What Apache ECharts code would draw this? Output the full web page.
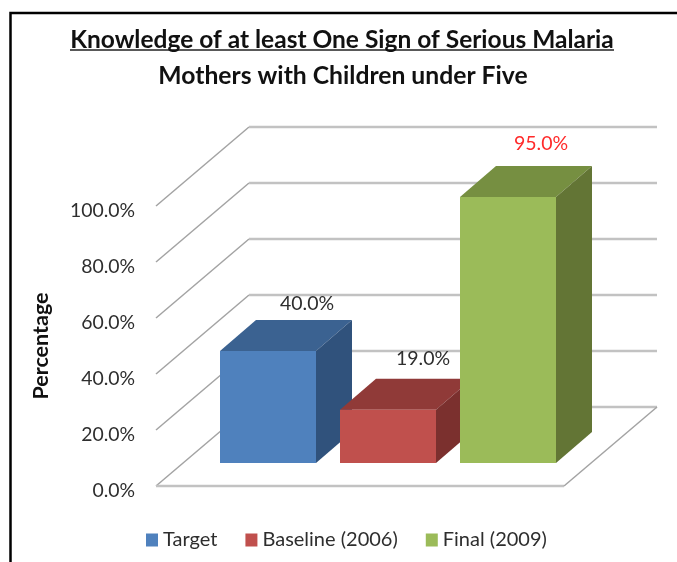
<!DOCTYPE html>
<html>
<head>
<meta charset="utf-8">
<title>Knowledge of at least One Sign of Serious Malaria</title>
<script src="https://cdn.jsdelivr.net/npm/echarts@6/dist/echarts.min.js"></script>
<style>
  html, body { margin: 0; padding: 0; background: #fff; }
  #chart { width: 677px; height: 562px; }
</style>
</head>
<body>
<div id="chart"></div>
<script>
var categories = ['Knowledge of sign']
var tickValues = [0, 20, 40, 60, 80, 100]
var seriesNames = ['Target', 'Baseline (2006)', 'Final (2009)']
var targetValues = [40.0]
var baselineValues = [19.0]
var finalValues = [95.0]

var textFont = 'Lato, "Open Sans", sans-serif'
var textColor = '#2e2e2e'

// depth of the floor and of the bars, in pixels
var wallDepth = { x: 93, y: 79 }
var barDepth = { x: 36, y: 31 }
var barInset = { x: 28, y: 23 }
var barShare = 96 / 408
var barStep = 120 / 408
var clusterStart = 36 / 408

function renderWall(params, api) {
  var value = api.value(1)
  var front = api.coord([0, value])
  var band = api.size([1, 0])[0]
  var left = front[0] - band / 2
  var y = front[1]
  var backLeft = [left + wallDepth.x, y - wallDepth.y]
  var backRight = [left + band + wallDepth.x, y - wallDepth.y]
  var children = [
    {
      type: 'polyline',
      shape: { points: [[left, y], backLeft] },
      style: { stroke: '#a3a3a3', lineWidth: 1.5, fill: null }
    },
    {
      type: 'polyline',
      shape: { points: [backLeft, backRight] },
      style: { stroke: '#c2c2c2', lineWidth: 2.5, fill: null }
    }
  ]
  if (value === 0) {
    children.push({
      type: 'polyline',
      shape: { points: [[left, y], [left + band, y]] },
      style: { stroke: '#c2c2c2', lineWidth: 2.5, fill: null }
    })
    children.push({
      type: 'polyline',
      shape: { points: [[left + band, y], backRight] },
      style: { stroke: '#a3a3a3', lineWidth: 1.5, fill: null }
    })
  }
  return { type: 'group', children: children }
}

function makeBarRenderer(index, colors, labelColor, labelShift) {
  return function (params, api) {
    var value = api.value(1)
    var top = api.coord([0, value])
    var zero = api.coord([0, 0])
    var band = api.size([1, 0])[0]
    var x0 = top[0] - band / 2 + band * clusterStart + band * barStep * index + barInset.x
    var x1 = x0 + band * barShare
    var yTop = top[1] - barInset.y
    var yBase = zero[1] - barInset.y
    return {
      type: 'group',
      children: [
        {
          type: 'polygon',
          shape: { points: [[x0, yTop], [x1, yTop], [x1 + barDepth.x, yTop - barDepth.y], [x0 + barDepth.x, yTop - barDepth.y]] },
          style: { fill: colors.top }
        },
        {
          type: 'polygon',
          shape: { points: [[x1, yTop], [x1 + barDepth.x, yTop - barDepth.y], [x1 + barDepth.x, yBase - barDepth.y], [x1, yBase]] },
          style: { fill: colors.side }
        },
        {
          type: 'rect',
          shape: { x: x0, y: yTop, width: x1 - x0, height: yBase - yTop },
          style: { fill: colors.front }
        },
        {
          type: 'text',
          z2: 10,
          style: {
            x: (x0 + x1) / 2 + labelShift.x,
            y: yTop + labelShift.y,
            text: value.toFixed(1) + '%',
            fill: labelColor,
            font: '19.5px ' + textFont,
            align: 'center',
            verticalAlign: 'middle'
          }
        }
      ]
    }
  }
}

function barSeries(index, values, colors, labelColor, labelShift) {
  return {
    name: seriesNames[index],
    type: 'custom',
    clip: false,
    silent: true,
    z: 3 + index,
    itemStyle: { color: colors.front },
    data: values.map(function (v) { return [0, v] }),
    renderItem: makeBarRenderer(index, colors, labelColor, labelShift)
  }
}

var myChart = echarts.init(document.getElementById('chart'))
var option = {
  animation: false,
  title: [
    {
      text: 'Knowledge of at least One Sign of Serious Malaria',
      left: 337,
      top: 23,
      textAlign: 'center',
      textStyle: { fontFamily: textFont, fontWeight: 'bold', fontSize: 24.5, color: '#111' }
    },
    {
      text: 'Mothers with Children under Five',
      left: 338,
      top: 59,
      textAlign: 'center',
      textStyle: { fontFamily: textFont, fontWeight: 'bold', fontSize: 24.7, color: '#111' }
    }
  ],
  legend: {
    data: seriesNames,
    left: 141,
    top: 525,
    icon: 'rect',
    itemWidth: 12,
    itemHeight: 13,
    itemGap: 28,
    textStyle: { fontFamily: textFont, fontSize: 20, color: textColor }
  },
  grid: { left: 156, top: 206, width: 408, height: 280 },
  xAxis: { type: 'category', data: categories, show: false },
  yAxis: {
    type: 'value',
    min: 0,
    max: 100,
    interval: 20,
    name: 'Percentage',
    nameLocation: 'middle',
    nameRotate: 90,
    nameGap: 104,
    nameTextStyle: { fontFamily: textFont, fontWeight: 'bold', fontSize: 21.5, color: '#111' },
    axisLine: { show: false },
    axisTick: { show: false },
    splitLine: { show: false },
    axisLabel: {
      margin: 21,
      verticalAlign: 'top',
      lineHeight: 9,
      fontFamily: textFont,
      fontSize: 19.4,
      color: textColor,
      formatter: function (v) { return v.toFixed(1) + '%' }
    }
  },
  graphic: [
    {
      type: 'polyline',
      shape: { points: [[10.5, 562], [10.5, 13], [677, 13]] },
      style: { stroke: '#000', lineWidth: 2.5, fill: null }
    },
    {
      type: 'line',
      shape: { x1: 70, y1: 50, x2: 614, y2: 50 },
      style: { stroke: '#222', lineWidth: 1.5 }
    }
  ],
  series: [
    {
      name: 'walls',
      type: 'custom',
      clip: false,
      silent: true,
      z: 1,
      data: tickValues.map(function (t) { return [0, t] }),
      renderItem: renderWall
    },
    barSeries(0, targetValues, { front: '#4f81bd', top: '#3b6291', side: '#30527c' }, textColor, { x: 39, y: -47 }),
    barSeries(1, baselineValues, { front: '#c0504d', top: '#903a38', side: '#7b302e' }, textColor, { x: 35, y: -51 }),
    barSeries(2, finalValues, { front: '#9bbb59', top: '#768f41', side: '#637535' }, '#ff2a2a', { x: 33, y: -53 })
  ]
}
myChart.setOption(option)
</script>
</body>
</html>
